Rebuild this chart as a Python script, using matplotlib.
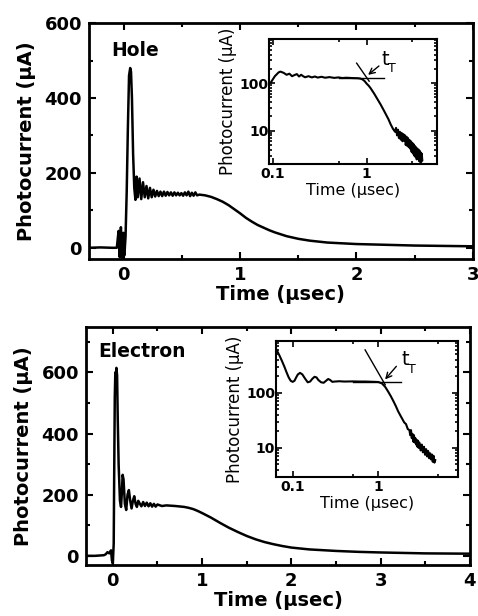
import matplotlib
matplotlib.use("Agg")
import matplotlib.pyplot as plt
from matplotlib.ticker import FixedLocator, NullFormatter, LogLocator

plt.rcParams['font.family'] = ['DejaVu Sans']

# hole transient (linear time, uA)
hole_t = [-0.3, -0.2, -0.1, -0.06, -0.045, -0.035, -0.025, -0.015, -0.005, 0.005, 0.015,
          0.025, 0.035, 0.045, 0.055, 0.062, 0.07, 0.08, 0.09, 0.1, 0.11, 0.12, 0.135,
          0.15, 0.165, 0.18, 0.195, 0.21, 0.225, 0.24, 0.255, 0.27, 0.285, 0.3, 0.315,
          0.33, 0.345, 0.36, 0.375, 0.39, 0.405, 0.42, 0.435, 0.45, 0.465, 0.48, 0.495,
          0.51, 0.525, 0.54, 0.555, 0.57, 0.585, 0.6, 0.615, 0.63, 0.65, 0.7, 0.75, 0.8,
          0.85, 0.9, 0.95, 1.0, 1.05, 1.1, 1.15, 1.2, 1.25, 1.3, 1.35, 1.4, 1.5, 1.6,
          1.75, 2.0, 2.25, 2.5, 2.75, 3.0]
hole_i = [0, 1, 0, 0, 45, -25, 55, -30, 40, -20, 30,
          150, 320, 460, 480, 470, 400, 250, 160, 128, 190, 135, 185,
          130, 175, 135, 165, 132, 160, 135, 155, 137, 152, 138, 150,
          138, 150, 139, 149, 140, 148, 139, 148, 140, 147, 140, 146,
          139, 148, 140, 150, 138, 147, 139, 148, 140, 142, 140, 136, 130,
          123, 114, 103, 92, 80, 70, 61, 54, 47, 41, 36, 31, 24, 19,
          14, 10, 8, 6, 5, 4]

# electron transient
elec_t = [-0.3, -0.2, -0.1, -0.08, -0.06, -0.04, -0.02, -0.01, 0.0, 0.01, 0.015, 0.022,
          0.028, 0.034, 0.04, 0.048, 0.055, 0.065, 0.08, 0.092, 0.1, 0.11, 0.12, 0.135,
          0.15, 0.165, 0.18, 0.195, 0.21, 0.225, 0.24, 0.255, 0.27, 0.285, 0.3, 0.32,
          0.34, 0.36, 0.38, 0.4, 0.42, 0.44, 0.46, 0.48, 0.5, 0.55, 0.6, 0.7, 0.8, 0.85,
          0.9, 0.95, 1.0, 1.1, 1.2, 1.3, 1.4, 1.5, 1.6, 1.7, 1.8, 1.9, 2.0, 2.2, 2.5,
          2.75, 3.0, 3.5, 4.0]
elec_i = [0, 0, 2, 5, 12, 8, 18, -15, -25, 40, 250, 520,
          600, 585, 615, 590, 450, 300, 180, 160, 200, 265, 250, 170,
          150, 200, 215, 180, 155, 180, 195, 170, 160, 180, 172, 162,
          176, 163, 174, 162, 172, 161, 170, 161, 168, 163, 165, 163, 160, 157,
          153, 147, 140, 125, 108, 92, 78, 65, 54, 45, 38, 32, 27, 21, 16,
          13, 11, 8, 7]

# log-log insets
hole_log_t = [0.095, 0.105, 0.115, 0.12, 0.13, 0.14, 0.15, 0.16, 0.17, 0.18, 0.19, 0.2,
              0.21, 0.22, 0.24, 0.26, 0.28, 0.3, 0.33, 0.36, 0.4, 0.45, 0.5, 0.55, 0.6,
              0.7, 0.8, 0.85, 0.9, 0.95, 1.0, 1.05, 1.1, 1.2, 1.3, 1.4, 1.5, 1.6, 1.7,
              1.8, 1.9, 2.0, 2.05, 2.1, 2.15, 2.2, 2.25, 2.3, 2.35, 2.4, 2.45, 2.5, 2.55,
              2.6, 2.65, 2.7, 2.75, 2.8, 2.85, 2.9, 2.95, 3.0, 3.05, 3.1, 3.15, 3.2, 3.25,
              3.3, 3.35, 3.4, 3.45, 3.5, 3.55, 3.6, 3.65, 3.7, 3.75, 3.8, 3.85, 3.9]
hole_log_i = [103, 140, 168, 175, 165, 150, 158, 140, 148, 155, 138, 150,
              140, 133, 140, 132, 138, 131, 136, 130, 134, 129, 132, 128, 130,
              128, 127, 125, 120, 110, 97, 88, 78, 60, 46, 36, 28, 22, 17.5,
              13.5, 11, 9.5, 11.5, 8, 10.5, 7, 9.5, 6.5, 9, 6, 8.5, 6.2, 8,
              5, 7.5, 4.8, 7, 4.5, 6.4, 4.2, 6, 3.6, 5.6, 3.3, 5.2, 3.0, 4.8,
              2.8, 4.5, 2.5, 4.2, 2.8, 4.0, 2.3, 3.8, 2.2, 3.5, 2.2, 3.3, 2.4]
elec_log_t = [0.065, 0.07, 0.075, 0.08, 0.085, 0.09, 0.095, 0.1, 0.105, 0.11, 0.115,
              0.122, 0.13, 0.14, 0.15, 0.16, 0.17, 0.18, 0.19, 0.2, 0.215, 0.23, 0.245,
              0.26, 0.275, 0.29, 0.31, 0.35, 0.4, 0.5, 0.6, 0.7, 0.8, 0.9, 1.0, 1.1, 1.2,
              1.3, 1.4, 1.5, 1.6, 1.7, 1.8, 2.0, 2.1, 2.2, 2.3, 2.35, 2.4, 2.45, 2.5, 2.55,
              2.6, 2.65, 2.7, 2.75, 2.8, 2.85, 2.9, 2.95, 3.0, 3.1, 3.2, 3.3, 3.4, 3.5,
              3.6, 3.7, 3.8, 3.9, 4.0, 4.1, 4.2, 4.3, 4.4, 4.5, 4.6]
elec_log_i = [600, 480, 380, 300, 235, 190, 165, 158, 165, 190, 215,
              230, 215, 180, 155, 160, 180, 195, 190, 170, 155, 152, 165,
              178, 170, 158, 160, 162, 160, 161, 160, 160, 159, 158, 157, 148, 128,
              105, 86, 70, 57, 46, 39, 29, 27, 22, 21, 17, 21, 15, 18, 13,
              17, 12.5, 15, 11.5, 14, 10.5, 13.5, 10, 12.5, 9, 11.5, 8.3, 10.5, 7.5,
              9.5, 7, 8.8, 6.5, 8, 6.2, 7.6, 5.6, 7.2, 5.4, 6.0]

# tangent construction lines for t_T
hole_tan_t = [0.78, 1.06]
hole_tan_i = [263, 110]
hole_flat_t = [0.5, 1.53]
hole_flat_i = [128, 128]
elec_tan_t = [0.70, 1.2]
elec_tan_i = [600, 140]
elec_flat_t = [0.5, 1.83]
elec_flat_i = [160, 160]

fig = plt.figure(figsize=(4.78, 6.16), dpi=100)


def style_main(ax):
    for s in ax.spines.values():
        s.set_linewidth(2)
    ax.tick_params(which='both', direction='in', top=True, right=True, width=1.5,
                   labelsize=13, pad=5)
    ax.tick_params(which='major', length=5)
    ax.tick_params(which='minor', length=3)
    for lab in ax.get_xticklabels() + ax.get_yticklabels():
        lab.set_fontweight('bold')
    ax.set_xlabel('Time (\u03bcsec)', fontsize=14, fontweight='bold', labelpad=1)
    ax.set_ylabel('Photocurrent (\u03bcA)', fontsize=14, fontweight='bold', labelpad=6)


def style_inset(ax, minor_x):
    ax.set_xscale('log')
    ax.set_yscale('log')
    for s in ax.spines.values():
        s.set_linewidth(1.5)
    ax.xaxis.set_major_locator(FixedLocator([0.1, 1]))
    ax.xaxis.set_minor_locator(FixedLocator(minor_x))
    ax.xaxis.set_major_formatter(plt.FuncFormatter(lambda v, p: '%g' % v))
    ax.xaxis.set_minor_formatter(NullFormatter())
    ax.yaxis.set_major_locator(FixedLocator([10, 100]))
    ax.yaxis.set_minor_locator(LogLocator(base=10, subs=range(2, 10)))
    ax.yaxis.set_major_formatter(plt.FuncFormatter(lambda v, p: '%g' % v))
    ax.yaxis.set_minor_formatter(NullFormatter())
    ax.tick_params(which='both', direction='in', top=True, right=True, width=1.2,
                   labelsize=10)
    ax.tick_params(which='major', length=4)
    ax.tick_params(which='minor', length=2.5)
    ax.tick_params(axis='y', pad=0.5)
    ax.tick_params(axis='x', pad=2.5)
    for lab in ax.get_xticklabels() + ax.get_yticklabels():
        lab.set_fontweight('bold')
    ax.set_xlabel('Time (\u03bcsec)', fontsize=11.5, labelpad=1)
    ax.set_ylabel('Photocurrent (\u03bcA)', fontsize=12, labelpad=2)


# top panel: holes
ax1 = fig.add_axes([0.186, 0.5795, 0.803, 0.383])
ax1.plot(hole_t, hole_i, color='black', lw=1.8)
ax1.set_xlim(-0.3, 3)
ax1.set_ylim(-30, 600)
ax1.set_xticks([0, 1, 2, 3])
ax1.set_xticks([-0.5 + 0.5 * k for k in range(1, 7)], minor=True)
ax1.set_yticks([0, 200, 400, 600])
ax1.set_yticks([100, 300, 500], minor=True)
style_main(ax1)
ax1.text(-0.11, 528, 'Hole', fontsize=13.5, fontweight='bold', va='center')

in1 = fig.add_axes([0.5628, 0.7338, 0.3515, 0.203])
in1.plot(hole_log_t, hole_log_i, color='black', lw=1.5)
in1.plot(hole_tan_t, hole_tan_i, color='black', lw=1)
in1.plot(hole_flat_t, hole_flat_i, color='black', lw=1)
in1.set_xlim(0.091, 5.6)
in1.set_ylim(2.0, 850)
style_inset(in1, [0.5, 3])
in1.annotate('', xy=(0.98, 137), xytext=(1.42, 250),
             arrowprops=dict(arrowstyle='->', color='black', lw=1))
in1.text(1.45, 242, 't', fontsize=14, va='baseline')
in1.text(1.69, 172, 'T', fontsize=9, va='baseline')

# bottom panel: electrons
ax2 = fig.add_axes([0.180, 0.0828, 0.803, 0.387])
ax2.plot(elec_t, elec_i, color='black', lw=1.8)
ax2.set_xlim(-0.3, 4)
ax2.set_ylim(-30, 750)
ax2.set_xticks([0, 1, 2, 3, 4])
ax2.set_xticks([0.5 * k for k in range(0, 9)], minor=True)
ax2.set_yticks([0, 200, 400, 600])
ax2.set_yticks([100, 300, 500, 700], minor=True)
style_main(ax2)
ax2.text(-0.16, 667, 'Electron', fontsize=13.5, fontweight='bold', va='center')

in2 = fig.add_axes([0.5774, 0.2261, 0.381, 0.2203])
in2.plot(elec_log_t, elec_log_i, color='black', lw=1.5)
in2.plot(elec_tan_t, elec_tan_i, color='black', lw=1)
in2.plot(elec_flat_t, elec_flat_i, color='black', lw=1)
in2.set_xlim(0.064, 8.5)
in2.set_ylim(3, 870)
style_inset(in2, [0.5, 5])
in2.annotate('', xy=(1.14, 160), xytext=(1.7, 330),
             arrowprops=dict(arrowstyle='->', color='black', lw=1))
in2.text(1.87, 319, 't', fontsize=14, va='baseline')
in2.text(2.2, 225, 'T', fontsize=9, va='baseline')

fig.savefig('out.png', dpi=100)
